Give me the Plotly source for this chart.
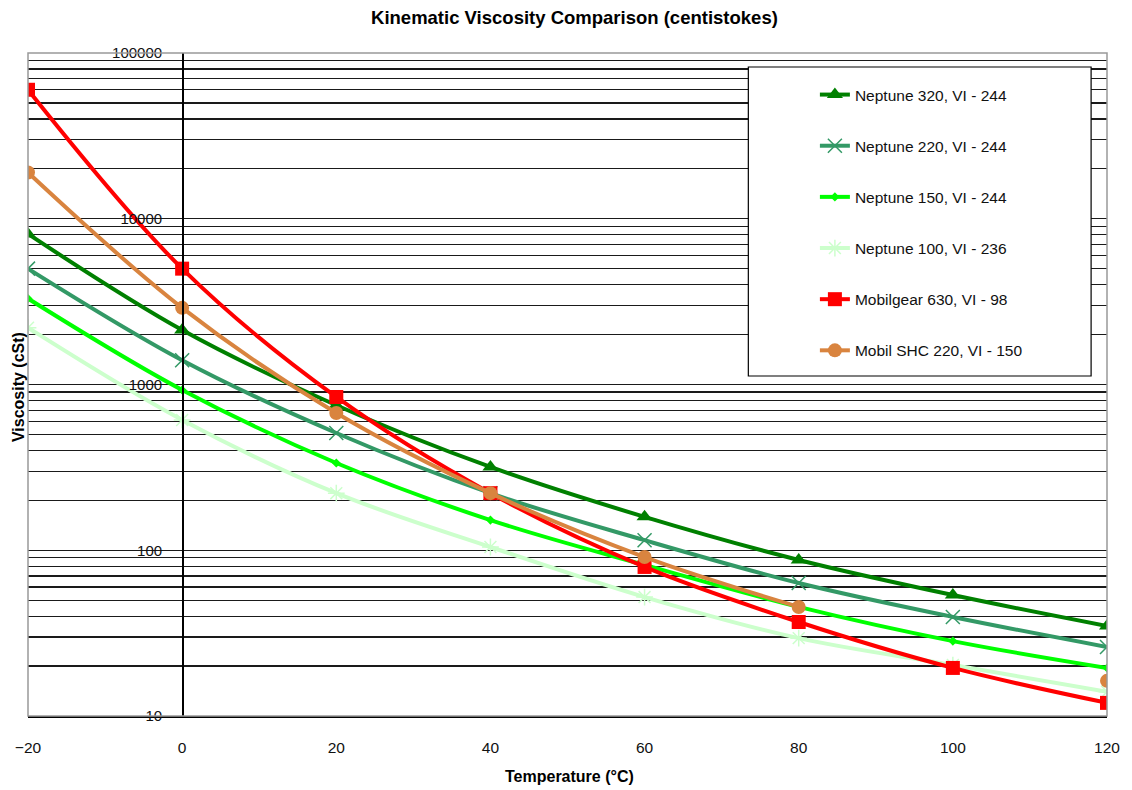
import plotly.graph_objects as go

temps = [-20, 0, 20, 40, 60, 80, 100, 120]
neptune_320 = [8100, 2130, 750, 318, 159, 87.4, 53.7, 34.9]
neptune_220 = [5000, 1400, 510, 221, 115, 63.4, 39.6, 26.1]
neptune_150 = [3300, 927, 336, 152, 81.5, 45.5, 28.3, 19.5]
neptune_100 = [2200, 611, 221, 104.6, 52.2, 29.5, 20.3, 14.0]
mobilgear_630 = [60000, 5000, 841, 221, 79.3, 36.9, 19.5, 12.0]
mobil_shc_220 = [19000, 2900, 673, 221, 91, 45.5, None, 16.3]

series_names = ["Neptune 320, VI - 244", "Neptune 220, VI - 244", "Neptune 150, VI - 244",
                "Neptune 100, VI - 236", "Mobilgear 630, VI - 98", "Mobil SHC 220, VI - 150"]

x_ticks = [-20, 0, 20, 40, 60, 80, 100, 120]
decades = [10, 100, 1000, 10000, 100000]
y_tickvals = []
y_ticktext = []
for d in decades[:-1]:
    for m in range(1, 10):
        y_tickvals.append(d * m)
        y_ticktext.append(str(d) if m == 1 else "")
y_tickvals.append(100000)
y_ticktext.append("100000")

styles = [
    dict(color="#008000", symbol="triangle-up", size=14, lw=0),
    dict(color="#339966", symbol="x-thin", size=14, lw=1.5),
    dict(color="#00ff00", symbol="diamond", size=7, lw=0),
    dict(color="#ccffcc", symbol="asterisk", size=14, lw=1.5),
    dict(color="#ff0000", symbol="square", size=14, lw=0),
    dict(color="#d9843f", symbol="circle", size=14, lw=0),
]
data = [neptune_320, neptune_220, neptune_150, neptune_100, mobilgear_630, mobil_shc_220]

fig = go.Figure()
for i, (name, vals, st) in enumerate(zip(series_names, data, styles)):
    fig.add_trace(go.Scatter(
        x=temps, y=vals, name=name, mode="lines+markers",
        line=dict(color=st["color"], width=4, shape="spline"),
        marker=dict(color=st["color"], symbol=st["symbol"], size=st["size"],
                    line=dict(color=st["color"], width=st["lw"])),
        connectgaps=False, legendgroup=f"g{i}", hoverinfo="skip",
    ))

W, H = 1132, 790
L, T = 28, 53
R = W - 1114
B = H - 716
pw = W - L - R
ph = H - T - B
x0_pos = (0 - (-20)) / 140.0

def px_x(p):
    return (p - L) / pw

def px_y(p):
    return 1 - (p - T) / ph

fig.update_layout(
    width=W, height=H,
    margin=dict(l=L, r=R, t=T, b=B, pad=0),
    paper_bgcolor="white", plot_bgcolor="white",
    font=dict(family="Liberation Sans, Arial, sans-serif", size=12, color="#111111"),
    title=dict(text="<b>Kinematic Viscosity Comparison (centistokes)</b>",
               x=px_x(578), xref="paper", xanchor="center", y=1 - 18 / H, yanchor="middle",
               font=dict(size=18.5, color="#000000")),
    xaxis=dict(range=[-20, 120], tickvals=x_ticks, showgrid=False, zeroline=False,
               showline=True, linecolor="#000000", linewidth=1.5, ticks="",
               ticklabelstandoff=17, tickfont=dict(size=15.5), fixedrange=True),
    yaxis=dict(type="log", range=[1, 5], tickvals=y_tickvals, ticktext=y_ticktext,
               showgrid=True, gridcolor="#1a1a1a", gridwidth=1.2, zeroline=False,
               anchor="free", position=x0_pos, showline=True, linecolor="#000000",
               linewidth=1.5, ticks="", ticklabelstandoff=17, tickfont=dict(size=15),
               fixedrange=True),
    showlegend=True,
    legend=dict(x=px_x(820), xanchor="left", y=px_y(78), yanchor="top",
                bgcolor="rgba(0,0,0,0)", borderwidth=0, tracegroupgap=28,
                font=dict(size=15.5, color="#111111"), itemwidth=30),
    shapes=[
        dict(type="rect", xref="paper", yref="paper", x0=0, x1=1, y0=0, y1=1,
             line=dict(color="#999999", width=1.5), fillcolor="rgba(0,0,0,0)", layer="above"),
        dict(type="rect", xref="paper", yref="paper", x0=px_x(753), x1=px_x(1098),
             y0=px_y(376), y1=px_y(67), line=dict(color="#000000", width=1.2),
             fillcolor="white", layer="above"),
    ],
    annotations=[
        dict(text="<b>Temperature (°C)</b>", xref="paper", yref="paper",
             x=px_x(573), y=px_y(777), xanchor="center", yanchor="middle",
             showarrow=False, font=dict(size=16, color="#000000")),
        dict(text="<b>Viscosity (cSt)</b>", xref="paper", yref="paper",
             x=px_x(18), y=px_y(387), xanchor="center", yanchor="middle",
             textangle=-90, showarrow=False, font=dict(size=16, color="#000000")),
    ],
)

fig.write_html("out.html",
               config={"displayModeBar": False, "staticPlot": True},
               post_script="document.body.style.margin='0';document.body.style.padding='0';"
                           "document.documentElement.style.overflow='hidden';")
